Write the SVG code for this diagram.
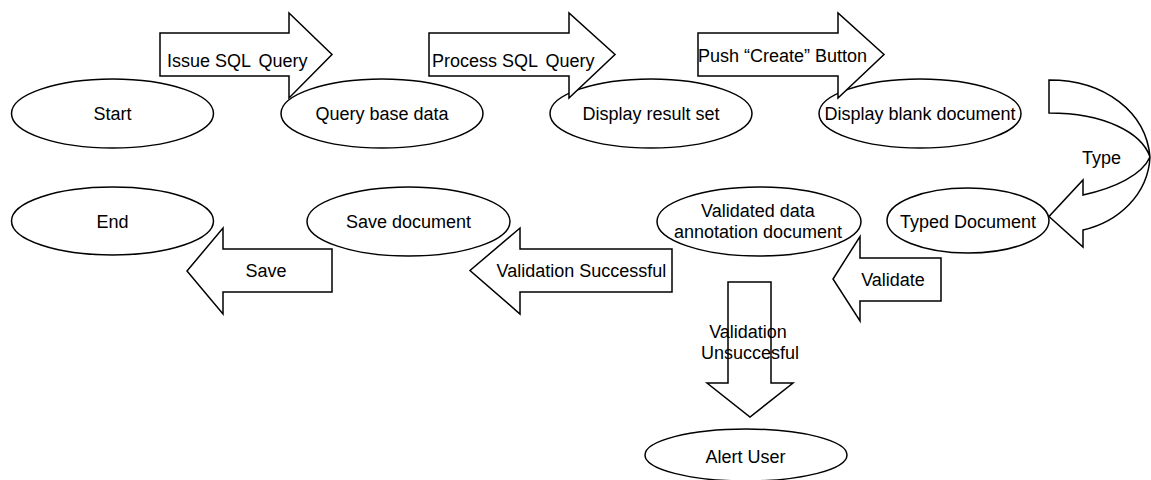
<svg xmlns="http://www.w3.org/2000/svg" width="1151" height="480" viewBox="0 0 1151 480">
  <style>
    .shape { fill: #ffffff; stroke: #000000; stroke-width: 1.5; stroke-linejoin: miter; }
    .lbl { font-family: "Liberation Sans", Arial, sans-serif; font-size: 18px; fill: #000000; }
    .mid { text-anchor: middle; }
  </style>
  <rect width="1151" height="480" fill="#ffffff"/>

  <!-- state nodes -->
  <g id="node-start">
    <ellipse class="shape" cx="112.5" cy="113.5" rx="101" ry="34.5"/>
    <text class="lbl mid" x="112.5" y="120">Start</text>
  </g>
  <g id="node-query-base-data">
    <ellipse class="shape" cx="382" cy="113.5" rx="101" ry="34.5"/>
    <text class="lbl mid" x="382" y="120">Query base data</text>
  </g>
  <g id="node-display-result-set">
    <ellipse class="shape" cx="651" cy="113.5" rx="101" ry="34.5"/>
    <text class="lbl mid" x="651" y="120">Display result set</text>
  </g>
  <g id="node-display-blank-document">
    <ellipse class="shape" cx="920" cy="113.5" rx="101" ry="34.5"/>
    <text class="lbl mid" x="920" y="120">Display blank document</text>
  </g>
  <g id="node-typed-document">
    <ellipse class="shape" cx="968" cy="220.5" rx="81" ry="32.5"/>
    <text class="lbl mid" x="968" y="228">Typed Document</text>
  </g>
  <g id="node-validated-document">
    <ellipse class="shape" cx="759" cy="221.5" rx="102" ry="34.5"/>
    <text class="lbl mid" x="758" y="216.5">Validated data</text>
    <text class="lbl mid" x="758" y="238">annotation document</text>
  </g>
  <g id="node-save-document">
    <ellipse class="shape" cx="408.5" cy="221.5" rx="101.5" ry="34.5"/>
    <text class="lbl mid" x="408.5" y="228">Save document</text>
  </g>
  <g id="node-end">
    <ellipse class="shape" cx="112.5" cy="221" rx="101" ry="34"/>
    <text class="lbl mid" x="112.5" y="228">End</text>
  </g>
  <g id="node-alert-user">
    <ellipse class="shape" cx="746" cy="455" rx="101" ry="26"/>
    <text class="lbl mid" x="745.5" y="463">Alert User</text>
  </g>

  <!-- block-arrow connectors with their labels -->
  <g id="connectors">
    <g id="edge-issue-sql-query">
      <polygon class="shape" points="160,33 289,33 289,13 332,54.5 289,98 289,76 160,76"/>
      <text class="lbl" x="167" y="66.5">Issue SQL <tspan dx="3">Query</tspan></text>
    </g>
    <g id="edge-process-sql-query">
      <polygon class="shape" points="429,33 569,33 569,13 615,54.5 569,98 569,76 429,76"/>
      <text class="lbl" x="432" y="66.5">Process SQL <tspan dx="3">Query</tspan></text>
    </g>
    <g id="edge-push-create">
      <polygon class="shape" points="698,33 838,33 838,13 884,54.5 838,98 838,76 698,76"/>
      <text class="lbl" x="698" y="62">Push “Create” Button</text>
    </g>
    <g id="edge-type">
      <path class="shape" d="M1049,80 C1105,80 1146,112 1150,157 C1148,195 1118,222 1083,230 L1083,247 L1049,216.5 L1083,180 L1083,195 C1115,188 1142,175 1150,157 C1142,133 1105,113 1049,113 Z"/>
      <text class="lbl" x="1082" y="164">Type</text>
    </g>
    <g id="edge-validate">
      <polygon class="shape" points="941,258 860,258 860,236.5 833,279 860,321 860,301 941,301"/>
      <text class="lbl mid" x="893" y="286">Validate</text>
    </g>
    <g id="edge-validation-successful">
      <polygon class="shape" points="672,249 520,249 520,228 470,270.5 520,314 520,292 672,292"/>
      <text class="lbl mid" x="581.5" y="277">Validation Successful</text>
    </g>
    <g id="edge-save">
      <polygon class="shape" points="332,249 223,249 223,228 187,271 223,314 223,292 332,292"/>
      <text class="lbl mid" x="266" y="277">Save</text>
    </g>
    <g id="edge-validation-unsuccessful">
      <polygon class="shape" points="728,282 771,282 771,383 793,383 750,417 707,383 728,383"/>
      <text class="lbl mid" x="748" y="337.5">Validation</text>
      <text class="lbl mid" x="750" y="359">Unsuccesful</text>
    </g>
  </g>
</svg>
